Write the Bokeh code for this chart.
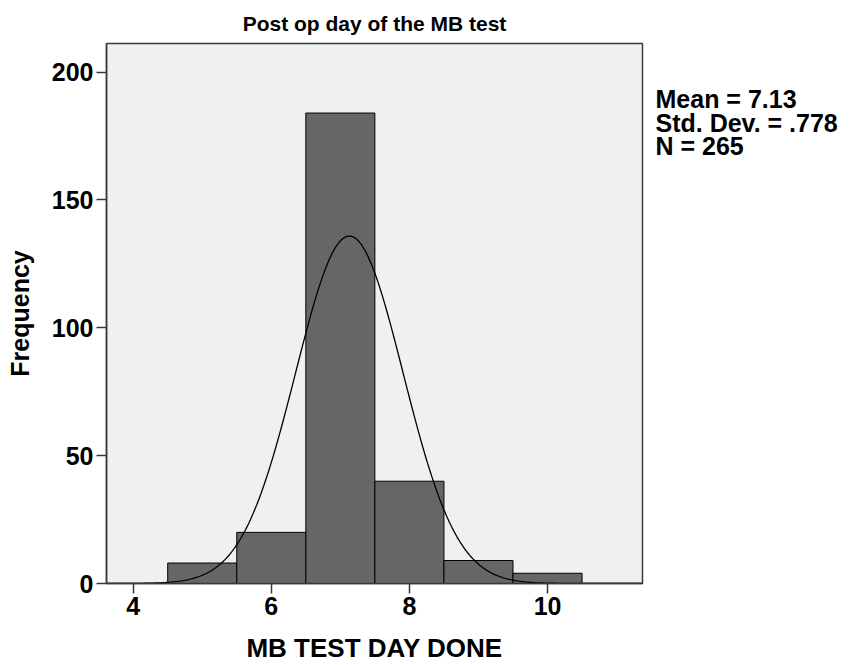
import numpy as np
from bokeh.plotting import figure
from bokeh.models import Range1d, FixedTicker, LinearAxis
from bokeh.embed import file_html
from bokeh.resources import INLINE

# ---- data ----
bin_centers = [5, 6, 7, 8, 9, 10]
counts = [8, 20, 184, 40, 9, 4]
bin_width = 1.0
mean_val = 7.13
sd_val = 0.778
n_val = 265
x_ticks = [4, 6, 8, 10]
y_ticks = [0, 50, 100, 150, 200]
stats_lines = ["Mean = 7.13", "Std. Dev. = .778", "N = 265"]
title_text = "Post op day of the MB test"
x_label = "MB TEST DAY DONE"
y_label = "Frequency"

FONT = "Liberation Sans"
X0, X1 = 3.614, 11.375
Y0, Y1 = 0, 211.2

W, H = 853, 665
BL, BR, BT, BB = 106, 211, 42, 81
frame_h = H - BT - BB

p = figure(width=W, height=H, output_backend="svg", toolbar_location=None,
           x_range=Range1d(X0, X1), y_range=Range1d(Y0, Y1),
           min_border_left=BL, min_border_right=BR,
           min_border_top=BT, min_border_bottom=BB,
           background_fill_color="#f0f0f0", border_fill_color="white",
           outline_line_color="#3a3a3a", outline_line_width=1.5)

p.title.text = title_text
p.title.align = "center"
p.title.text_font = FONT
p.title.text_font_size = "21px"
p.title.text_font_style = "bold"
p.title.text_color = "black"
p.title.standoff = 18

p.xgrid.visible = False
p.ygrid.visible = False

left = [c - bin_width / 2 for c in bin_centers]
right = [c + bin_width / 2 for c in bin_centers]
p.quad(left=left, right=right, bottom=0, top=counts,
       fill_color="#666666", line_color="black", line_width=1)

# fitted normal curve from the stated mean, sd and N
xs = np.linspace(X0, X1, 400)
ys = n_val * bin_width * np.exp(-0.5 * ((xs - mean_val) / sd_val) ** 2) / (sd_val * np.sqrt(2 * np.pi))
p.line(xs, ys, line_color="black", line_width=1.3)

for ax in (p.xaxis[0], p.yaxis[0]):
    ax.axis_line_color = "#3a3a3a"
    ax.axis_line_width = 1.5
    ax.major_tick_line_color = "#3a3a3a"
    ax.major_tick_line_width = 1.5
    ax.major_tick_out = 10
    ax.major_tick_in = 0
    ax.minor_tick_line_color = None
    ax.major_label_text_font = FONT
    ax.major_label_text_font_size = "25px"
    ax.major_label_text_font_style = "bold"
    ax.major_label_text_color = "black"
    ax.axis_label_text_font = FONT
    ax.axis_label_text_font_style = "bold"
    ax.axis_label_text_color = "black"

p.xaxis.ticker = FixedTicker(ticks=x_ticks)
p.yaxis.ticker = FixedTicker(ticks=y_ticks)
p.xaxis.axis_label = x_label
p.yaxis.axis_label = y_label
p.xaxis.axis_label_text_font_size = "26px"
p.yaxis.axis_label_text_font_size = "25px"
p.xaxis.major_label_standoff = 3
p.yaxis.major_label_standoff = 3
p.xaxis.axis_label_standoff = 15
p.yaxis.axis_label_standoff = 15

# stats text as labels of an unlined axis on the right
px_per_y = frame_h / (Y1 - Y0)
mid_px = [56.0, 79.5, 103.0]  # distance of each line's middle below the frame top
stat_y = [Y1 - d / px_per_y for d in mid_px]
stat_axis = LinearAxis(ticker=FixedTicker(ticks=stat_y),
                       major_label_overrides={y: t for y, t in zip(stat_y, stats_lines)},
                       axis_line_color=None, major_tick_line_color=None,
                       major_tick_in=0, major_tick_out=0, minor_tick_line_color=None,
                       major_label_standoff=13,
                       major_label_text_font=FONT, major_label_text_font_size="25px",
                       major_label_text_font_style="bold", major_label_text_color="black")
p.add_layout(stat_axis, "right")

open("out.html", "w").write(file_html(p, INLINE))
